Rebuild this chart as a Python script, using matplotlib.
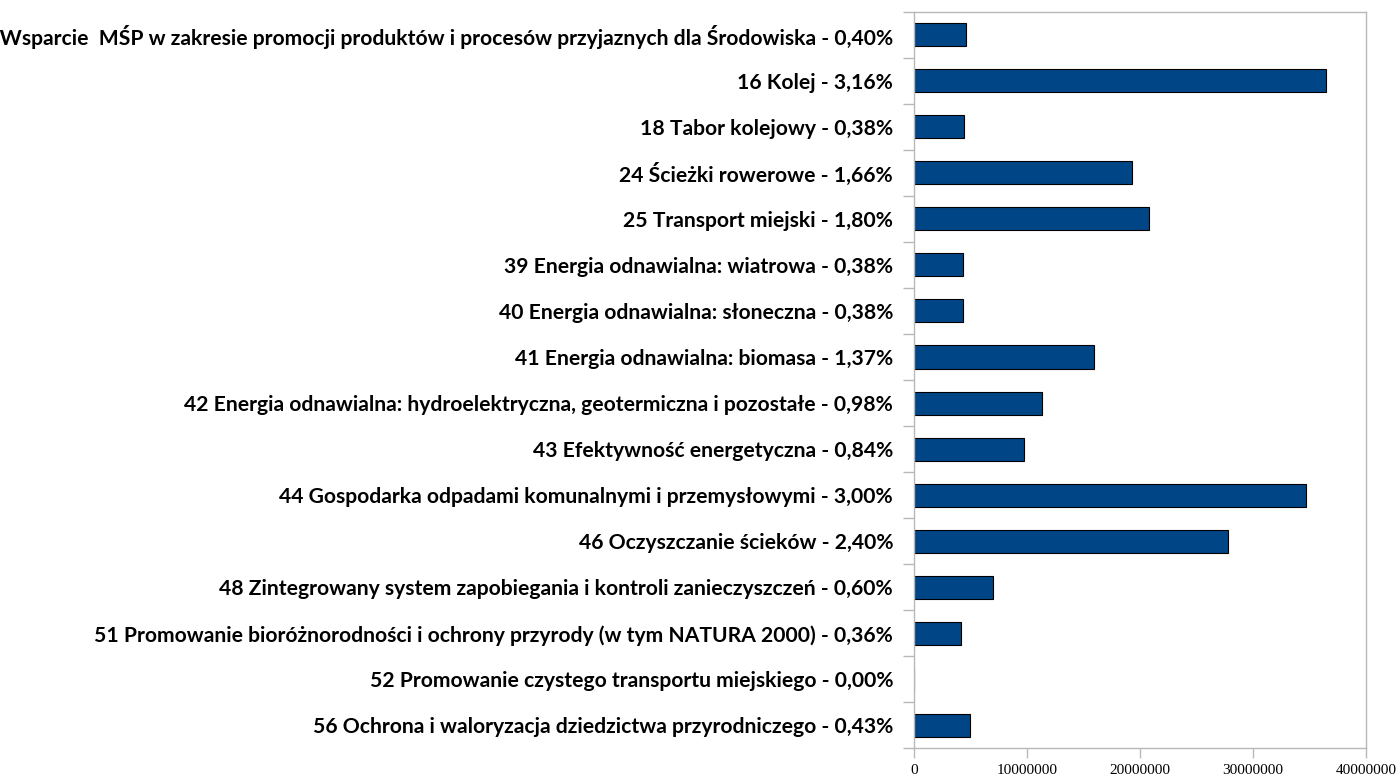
import numpy as np
import matplotlib.pyplot as plt
from matplotlib.ticker import FixedLocator

# categories (top to bottom) and amounts
labels = [
    "06 Wsparcie  MŚP w zakresie promocji produktów i procesów przyjaznych dla Środowiska - 0,40%",
    "16 Kolej - 3,16%",
    "18 Tabor kolejowy - 0,38%",
    "24 Ścieżki rowerowe - 1,66%",
    "25 Transport miejski - 1,80%",
    "39 Energia odnawialna: wiatrowa - 0,38%",
    "40 Energia odnawialna: słoneczna - 0,38%",
    "41 Energia odnawialna: biomasa - 1,37%",
    "42 Energia odnawialna: hydroelektryczna, geotermiczna i pozostałe - 0,98%",
    "43 Efektywność energetyczna - 0,84%",
    "44 Gospodarka odpadami komunalnymi i przemysłowymi - 3,00%",
    "46 Oczyszczanie ścieków - 2,40%",
    "48 Zintegrowany system zapobiegania i kontroli zanieczyszczeń - 0,60%",
    "51 Promowanie bioróżnorodności i ochrony przyrody (w tym NATURA 2000) - 0,36%",
    "52 Promowanie czystego transportu miejskiego - 0,00%",
    "56 Ochrona i waloryzacja dziedzictwa przyrodniczego - 0,43%",
]
values = [4630000, 36500000, 4460000, 19280000, 20840000, 4310000, 4310000, 15920000,
          11310000, 9710000, 34720000, 27790000, 6970000, 4190000, 0, 4930000]
xticks = [0, 10000000, 20000000, 30000000, 40000000]

bar_color = '#004586'
grey = '#b8b8b8'

fig = plt.figure(figsize=(13.99, 7.80), dpi=100)
ax = fig.add_axes([0.6533, 0.0406, 0.3231, 0.9444])

y = np.arange(len(labels))
ax.barh(y, values, height=0.5, color=bar_color, edgecolor='black', linewidth=0.8)

ax.set_xlim(0, 40000000)
ax.set_ylim(len(labels) - 0.5, -0.5)

ax.set_xticks(xticks)
ax.set_xticklabels([str(v) for v in xticks], family='Liberation Serif', fontsize=11)
ax.set_yticks(y)
ax.set_yticklabels(labels, family='Lato', fontweight='bold', fontsize=15.2)
ax.yaxis.set_minor_locator(FixedLocator(np.arange(-0.5, len(labels), 1.0)))

ax.tick_params(axis='y', which='major', length=0, pad=15)
ax.tick_params(axis='y', which='minor', length=8, color=grey, width=1)
ax.tick_params(axis='x', which='major', length=7, color=grey, width=1, pad=4)

for s in ax.spines.values():
    s.set_color(grey)
    s.set_linewidth(1)

fig.savefig('out.png', dpi=100)
